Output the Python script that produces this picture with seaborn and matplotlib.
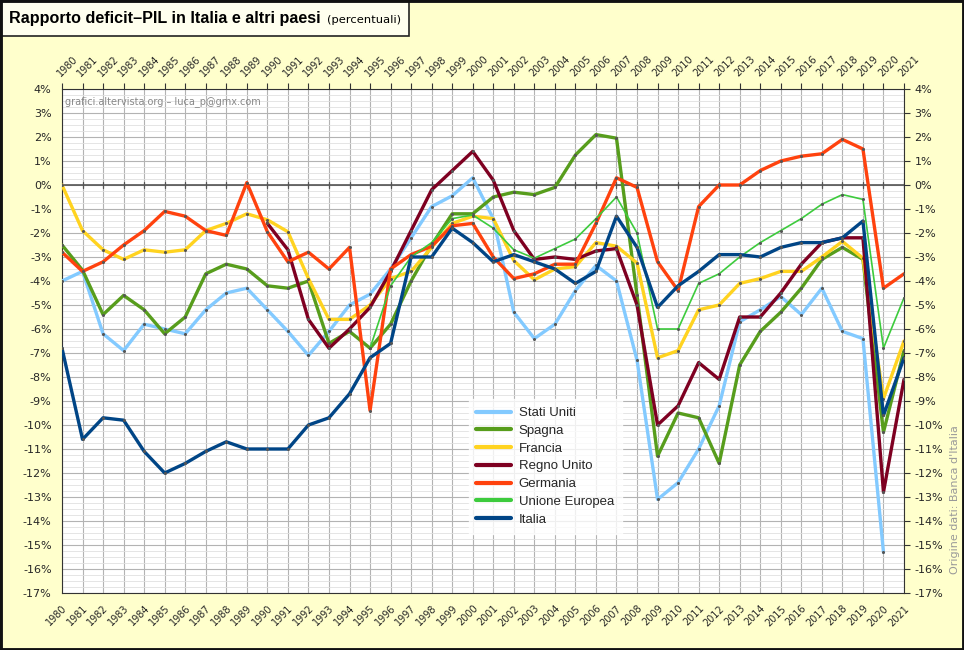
import numpy as np
import pandas as pd
import matplotlib
matplotlib.use("Agg")
import matplotlib.pyplot as plt
import matplotlib.ticker as mticker
from matplotlib.lines import Line2D
from matplotlib.patches import Rectangle
import seaborn as sns

years = list(range(1980, 2022))

stati_uniti = [-4.0, -3.6, -6.2, -6.9, -5.8, -6.0, -6.2, -5.2, -4.5, -4.3,
               -5.2, -6.1, -7.1, -6.1, -5.0, -4.55, -3.5, -2.2, -0.9, -0.45,
               0.3, -1.4, -5.3, -6.4, -5.8, -4.4, -3.35, -4.0, -7.3, -13.1,
               -12.4, -11.0, -9.2, -5.7, -5.2, -4.65, -5.4, -4.3, -6.1, -6.4,
               -15.3, None]
spagna = [-2.5, -3.55, -5.4, -4.6, -5.2, -6.2, -5.5, -3.7, -3.3, -3.5,
          -4.2, -4.3, -4.0, -6.6, -6.1, -6.8, -5.8, -4.0, -2.5, -1.2,
          -1.2, -0.5, -0.3, -0.4, -0.1, 1.25, 2.1, 1.95, -4.6, -11.3,
          -9.5, -9.7, -11.6, -7.5, -6.1, -5.3, -4.3, -3.1, -2.6, -3.1,
          -10.3, -6.9]
francia = [0.0, -1.9, -2.7, -3.1, -2.7, -2.8, -2.7, -1.9, -1.6, -1.2,
           -1.45, -1.95, -3.9, -5.6, -5.6, -5.0, -3.9, -3.6, -2.6, -1.6,
           -1.3, -1.4, -3.15, -3.95, -3.5, -3.4, -2.4, -2.55, -3.25, -7.2,
           -6.9, -5.2, -5.0, -4.1, -3.9, -3.6, -3.6, -3.0, -2.35, -3.05,
           -8.9, -6.5]
regno_unito = [None] * 10 + [
    -1.6, -2.7, -5.6, -6.8, -6.0, -5.1, -3.6, -1.9, -0.2, 0.6,
    1.4, 0.2, -1.9, -3.1, -3.0, -3.1, -2.75, -2.65, -5.0, -10.0,
    -9.2, -7.4, -8.1, -5.5, -5.5, -4.5, -3.3, -2.4, -2.2, -2.2,
    -12.8, -8.1]
germania = [-2.8, -3.6, -3.2, -2.5, -1.9, -1.1, -1.3, -1.9, -2.1, 0.1,
            -1.95, -3.2, -2.8, -3.5, -2.6, -9.4, -3.5, -2.9, -2.55, -1.7,
            -1.6, -3.0, -3.9, -3.7, -3.3, -3.3, -1.6, 0.3, -0.1, -3.2,
            -4.4, -0.9, 0.0, 0.0, 0.6, 1.0, 1.2, 1.3, 1.9, 1.5,
            -4.3, -3.7]
unione_europea = [None] * 15 + [
    -6.8, -4.2, -3.0, -2.4, -1.4,
    -1.25, -1.8, -2.7, -3.05, -2.65, -2.25, -1.4, -0.5, -2.0, -6.0,
    -6.0, -4.1, -3.7, -3.0, -2.4, -1.9, -1.4, -0.8, -0.4, -0.6,
    -6.8, -4.7]
italia = [-6.8, -10.6, -9.7, -9.8, -11.1, -12.0, -11.6, -11.1, -10.7, -11.0,
          -11.0, -11.0, -10.0, -9.7, -8.7, -7.2, -6.6, -3.0, -3.0, -1.8,
          -2.4, -3.2, -2.9, -3.2, -3.5, -4.1, -3.6, -1.3, -2.6, -5.1,
          -4.2, -3.6, -2.9, -2.9, -3.0, -2.6, -2.4, -2.4, -2.2, -1.5,
          -9.6, -7.2]

series_names = ["Stati Uniti", "Spagna", "Francia", "Regno Unito",
                "Germania", "Unione Europea", "Italia"]
series_values = [stati_uniti, spagna, francia, regno_unito,
                 germania, unione_europea, italia]
colors = ["#83CAFF", "#579D1C", "#FFD320", "#7E0021",
          "#FF420E", "#3DCB3D", "#004586"]
widths = [2.4, 2.4, 2.4, 2.4, 2.4, 1.2, 2.4]

rows = []
for name, vals in zip(series_names, series_values):
    for y, v in zip(years, vals):
        if v is not None:
            rows.append({"anno": y, "valore": v, "paese": name})
df = pd.DataFrame(rows)

sns.set_style("white")
plt.rcParams["font.family"] = ["DejaVu Sans"]

W, H = 964, 650
fig = plt.figure(figsize=(W / 100, H / 100), dpi=100, facecolor="#FFFFCC")
ax = fig.add_axes([62 / W, 1 - 593 / H, (904 - 62) / W, (593 - 89) / H])
ax.set_facecolor("white")

for name, col, lw in zip(series_names, colors, widths):
    sub = df[df["paese"] == name]
    sns.lineplot(data=sub, x="anno", y="valore", ax=ax, color=col, linewidth=lw,
                 marker="o", markersize=2.2, markerfacecolor="#555555",
                 markeredgewidth=0, legend=False, zorder=3)

ax.set_xlim(1980, 2021)
ax.set_ylim(-17, 4)
ax.set_xlabel("")
ax.set_ylabel("")

ax.xaxis.set_major_locator(mticker.MultipleLocator(1))
ax.yaxis.set_major_locator(mticker.MultipleLocator(1))
ax.yaxis.set_minor_locator(mticker.MultipleLocator(0.25))
ax.yaxis.set_major_formatter(mticker.FuncFormatter(lambda v, p: f"{int(round(v))}%"))
ax.xaxis.set_major_formatter(mticker.FuncFormatter(lambda v, p: f"{int(round(v))}"))

ax.grid(True, which="major", axis="both", color="#B3B3B3", linewidth=0.8, zorder=0)
ax.grid(True, which="minor", axis="y", color="#E0E0E0", linewidth=0.6, zorder=0)
ax.set_axisbelow(True)
ax.axhline(0, color="#555555", linewidth=1.2, zorder=2)
for yr in years:
    ax.plot([yr, yr], [-0.12, 0.12], color="#555555", linewidth=0.9, zorder=2)

ax.tick_params(axis="both", which="major", direction="out", length=4,
               color="#333333", labelsize=8, top=True, right=True,
               labeltop=True, labelright=True)
ax.tick_params(axis="y", which="minor", length=0)
ax.tick_params(axis="x", labelsize=7)
for t in ax.xaxis.get_major_ticks():
    t.label1.set_rotation(45)
    t.label1.set_ha("right")
    t.label1.set_rotation_mode("anchor")
    t.label2.set_rotation(45)
    t.label2.set_ha("left")
    t.label2.set_rotation_mode("anchor")
for s in ax.spines.values():
    s.set_color("#333333")
    s.set_linewidth(0.8)

handles = [Line2D([0], [0], color=c, linewidth=3) for c in colors]
leg = ax.legend(handles, series_names, loc="upper left",
                bbox_to_anchor=(0.475, 0.398), frameon=True,
                prop={"family": "Liberation Sans", "size": 9.5},
                handlelength=2.6, labelspacing=0.42, borderpad=0.6,
                handletextpad=0.6, fancybox=False)
leg.get_frame().set_facecolor("white")
leg.get_frame().set_edgecolor("white")
leg.set_zorder(5)

ax.text(0.004, 0.985, "grafici.altervista.org \u2013 luca_p@gmx.com",
        transform=ax.transAxes, fontsize=7, color="#888888", va="top",
        ha="left", zorder=6)

fig.text(955 / W, 1 - 500 / H, "Origine dati: Banca d'Italia", rotation=90,
         fontsize=8, color="#999999", ha="center", va="center")

# title box
fig.add_artist(Rectangle((1 / W, 1 - 36 / H), 408 / W, 35 / H,
                         transform=fig.transFigure, facecolor="#FFFFEE",
                         edgecolor="#222222", linewidth=1.2, zorder=10))
t_main = fig.text(9 / W, 1 - 19 / H, "Rapporto deficit\u2013PIL in Italia e altri paesi",
                  fontsize=12, fontweight="bold", family="Liberation Sans",
                  color="black", va="center", ha="left", zorder=11)
t_sub = fig.text(327 / W, 1 - 20 / H, "(percentuali)", fontsize=8.5,
                 family="DejaVu Sans", color="black", va="center", ha="left",
                 zorder=11)
renderer = fig.canvas.get_renderer()
wpx = t_main.get_window_extent(renderer).width
t_main.set_fontsize(12 * 310 / wpx)
wpx2 = t_sub.get_window_extent(renderer).width
t_sub.set_fontsize(8.5 * 74 / wpx2)

# outer border
fig.add_artist(Rectangle((0, 0), 1, 1, transform=fig.transFigure,
                         facecolor="none", edgecolor="#111111",
                         linewidth=3.5, zorder=12))

fig.savefig("out.png", dpi=100, facecolor=fig.get_facecolor())
